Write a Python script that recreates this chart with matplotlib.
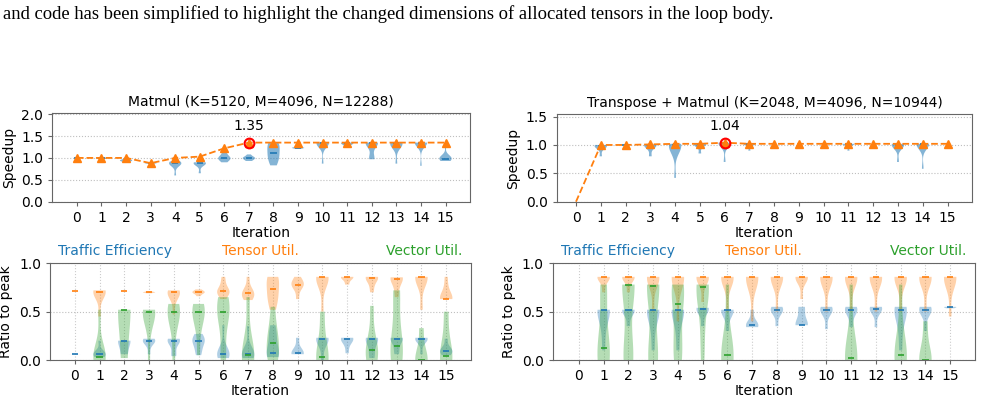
import matplotlib
matplotlib.use("Agg")
import matplotlib.pyplot as plt

# ---------------- data ----------------
iterations = list(range(16))

caption = ("and code has been simplified to highlight the changed dimensions "
           "of allocated tensors in the loop body.")

mm_title = "Matmul (K=5120, M=4096, N=12288)"
tm_title = "Transpose + Matmul (K=2048, M=4096, N=10944)"

# best speedup per iteration (orange dashed line)
mm_best = [1.0, 1.0, 1.0, 0.88, 1.0, 1.03, 1.22, 1.35, 1.35, 1.35, 1.35, 1.35, 1.35, 1.35, 1.35, 1.35]
tm_best = [0.0, 1.0, 1.0, 1.01, 1.02, 1.02, 1.04, 1.02, 1.02, 1.02, 1.02, 1.02, 1.02, 1.02, 1.02, 1.02]
mm_peak_iter, mm_peak_val = 7, 1.35
tm_peak_iter, tm_peak_val = 6, 1.04

# speedup samples of candidates per iteration (blue violins, top row)
mm_speed = [
    [1.0, 1.0005],
    [0.94, 1.0, 1.0, 1.0, 1.0, 1.0],
    [0.91, 0.93, 0.94, 0.94, 0.95, 0.97, 1.0],
    [0.87, 0.88, 0.88, 0.89],
    [0.6, 0.8, 0.85, 0.87, 0.88, 0.88, 0.89, 0.9, 0.92],
    [0.65, 0.85, 0.87, 0.88, 0.88, 0.89, 0.9],
    [0.9, 0.93, 0.96, 0.98, 1.0, 1.0, 1.02, 1.05, 1.1, 1.15],
    [0.93, 0.95, 0.97, 0.99, 1.0, 1.0, 1.02, 1.04, 1.08],
    [0.83, 0.92, 1.0, 1.06, 1.12, 1.2, 1.28, 1.33, 1.35],
    [1.21, 1.22, 1.23, 1.23, 1.24, 1.25],
    [0.87, 1.28, 1.32, 1.33, 1.34, 1.35, 1.35, 1.35, 1.35],
    [1.25, 1.3, 1.33, 1.34, 1.35],
    [0.97, 0.99, 1.02, 1.3, 1.33, 1.34, 1.35, 1.35, 1.35, 1.35],
    [0.87, 1.2, 1.28, 1.31, 1.33, 1.34, 1.35, 1.35, 1.35],
    [0.82, 1.34, 1.35, 1.35, 1.35, 1.35, 1.35, 1.35, 1.35, 1.35],
    [0.93, 0.95, 0.97, 0.98, 0.98, 1.0, 1.02, 1.05, 1.3],
]
tm_speed = [
    [],
    [0.8, 0.94, 0.97, 0.98, 0.99, 1.0, 1.0],
    [1.0, 1.0005],
    [0.8, 0.96, 0.99, 1.0, 1.01, 1.01],
    [0.42, 0.85, 0.93, 0.97, 1.0, 1.01, 1.02, 1.02, 1.02],
    [0.85, 0.99, 1.01, 1.02, 1.02, 1.02],
    [0.7, 1.02, 1.03, 1.03, 1.04, 1.04, 1.04, 1.04],
    [0.9, 1.02, 1.02, 1.02, 1.02, 1.02, 1.02],
    [], [], [],
    [0.9, 1.02, 1.02, 1.02, 1.02, 1.02, 1.02],
    [],
    [0.7, 0.95, 0.98, 1.0, 1.01, 1.02, 1.02, 1.02],
    [0.58, 0.99, 1.0, 1.01, 1.02, 1.02, 1.02, 1.02, 1.02],
    [],
]

# ratio-to-peak samples (bottom row)
mm_traffic = [
    [0.06, 0.0605],
    [0.03, 0.05, 0.06, 0.06, 0.07, 0.08, 0.2],
    [0.06, 0.2, 0.2],
    [0.06, 0.15, 0.19, 0.2, 0.2, 0.21, 0.22],
    [0.04, 0.07, 0.18, 0.2, 0.2, 0.21, 0.22],
    [0.05, 0.1, 0.16, 0.2, 0.2, 0.23, 0.27],
    [0.02, 0.05, 0.06, 0.06, 0.07, 0.09, 0.36],
    [0.02, 0.05, 0.06, 0.06, 0.07, 0.09, 0.35],
    [0.03, 0.06, 0.07, 0.07, 0.22, 0.26, 0.36],
    [0.06, 0.07, 0.07, 0.08, 0.23],
    [0.0, 0.15, 0.22, 0.22, 0.22, 0.23],
    [0.07, 0.16, 0.22, 0.22, 0.22, 0.23],
    [0.02, 0.06, 0.15, 0.22, 0.22, 0.22, 0.23],
    [0.06, 0.12, 0.22, 0.22, 0.22, 0.23],
    [0.06, 0.2, 0.22, 0.22, 0.22, 0.23],
    [0.05, 0.08, 0.09, 0.1, 0.12, 0.22],
]
mm_tensor = [
    [0.71, 0.7105],
    [0.45, 0.68, 0.7, 0.71, 0.71, 0.72],
    [0.71, 0.7105],
    [0.69, 0.7, 0.7, 0.7, 0.71],
    [0.47, 0.62, 0.68, 0.7, 0.7, 0.71, 0.72],
    [0.66, 0.69, 0.7, 0.7, 0.71, 0.73],
    [0.63, 0.68, 0.7, 0.71, 0.71, 0.73, 0.8, 0.86],
    [0.62, 0.65, 0.67, 0.69, 0.7, 0.74, 0.86],
    [0.52, 0.62, 0.66, 0.73, 0.8, 0.86, 0.86],
    [0.63, 0.77, 0.78, 0.78, 0.79, 0.86],
    [0.5, 0.75, 0.84, 0.86, 0.86, 0.86, 0.86],
    [0.78, 0.83, 0.86, 0.86, 0.86],
    [0.7, 0.78, 0.84, 0.86, 0.86, 0.86],
    [0.65, 0.75, 0.83, 0.855, 0.855, 0.855],
    [0.52, 0.82, 0.86, 0.86, 0.86, 0.86],
    [0.63, 0.63, 0.63, 0.63, 0.68, 0.75, 0.86],
]
mm_vector = [
    [],
    [0.0, 0.01, 0.02, 0.04, 0.08, 0.52],
    [0.02, 0.52, 0.52],
    [0.0, 0.3, 0.42, 0.48, 0.51, 0.51, 0.52, 0.52],
    [0.0, 0.3, 0.45, 0.5, 0.5, 0.55, 0.58],
    [0.05, 0.3, 0.45, 0.5, 0.5, 0.55, 0.58],
    [0.0, 0.05, 0.45, 0.5, 0.5, 0.6, 0.65],
    [0.0, 0.02, 0.05, 0.08, 0.65],
    [0.0, 0.05, 0.1, 0.25, 0.3, 0.55],
    [],
    [0.0, 0.02, 0.05, 0.5],
    [],
    [0.0, 0.05, 0.1, 0.15, 0.56],
    [0.0, 0.05, 0.1, 0.2, 0.7, 0.72],
    [0.0, 0.0, 0.01, 0.33],
    [0.0, 0.03, 0.06, 0.5],
]
tm_traffic = [
    [],
    [0.1, 0.3, 0.45, 0.52, 0.52, 0.52, 0.52],
    [0.35, 0.48, 0.52, 0.52, 0.52],
    [0.1, 0.3, 0.45, 0.52, 0.52, 0.52, 0.52],
    [0.1, 0.3, 0.45, 0.52, 0.52, 0.52, 0.52],
    [0.35, 0.51, 0.53, 0.53, 0.54],
    [0.3, 0.48, 0.52, 0.52, 0.52],
    [0.34, 0.36, 0.36, 0.37, 0.52],
    [0.35, 0.48, 0.52, 0.52, 0.53, 0.55],
    [0.36, 0.36, 0.36, 0.36, 0.45, 0.55, 0.55],
    [0.32, 0.49, 0.52, 0.52, 0.53, 0.55],
    [0.34, 0.45, 0.52, 0.52, 0.53, 0.55],
    [0.34, 0.5, 0.53, 0.53, 0.54, 0.55],
    [0.1, 0.3, 0.45, 0.52, 0.52, 0.54, 0.55],
    [0.3, 0.48, 0.52, 0.52, 0.53, 0.55],
    [0.535, 0.545, 0.55],
]
tm_tensor = [
    [],
    [0.7, 0.8, 0.86, 0.86, 0.86, 0.86],
    [0.7, 0.8, 0.86, 0.86, 0.86, 0.86],
    [0.5, 0.8, 0.86, 0.86, 0.86, 0.86],
    [0.4, 0.8, 0.86, 0.86, 0.86, 0.86],
    [0.6, 0.8, 0.86, 0.86, 0.86, 0.86],
    [0.5, 0.8, 0.86, 0.86, 0.86, 0.86],
    [0.4, 0.82, 0.86, 0.86, 0.86, 0.86],
    [0.5, 0.82, 0.86, 0.86, 0.86, 0.86],
    [0.63, 0.82, 0.86, 0.86, 0.86, 0.86],
    [0.5, 0.8, 0.86, 0.86, 0.86, 0.86],
    [0.5, 0.8, 0.86, 0.86, 0.86, 0.86],
    [0.5, 0.8, 0.86, 0.86, 0.86, 0.86],
    [0.5, 0.8, 0.86, 0.86, 0.86, 0.86],
    [0.5, 0.8, 0.86, 0.86, 0.86, 0.86],
    [0.45, 0.8, 0.86, 0.86, 0.86, 0.86],
]
tm_vector = [
    [],
    [0.0, 0.0, 0.05, 0.2, 0.7, 0.78],
    [0.0, 0.0, 0.05, 0.1, 0.78, 0.78, 0.78, 0.78, 0.78],
    [0.0, 0.0, 0.05, 0.1, 0.77, 0.77, 0.77, 0.78, 0.78],
    [0.0, 0.05, 0.1, 0.35, 0.58, 0.7, 0.78, 0.78, 0.78],
    [0.0, 0.3, 0.6, 0.75, 0.78, 0.78, 0.78],
    [0.0, 0.0, 0.05, 0.1, 0.78],
    [], [], [], [],
    [0.0, 0.0, 0.02, 0.05, 0.78],
    [],
    [0.0, 0.0, 0.05, 0.1, 0.78],
    [0.0, 0.0, 0.01, 0.4],
    [],
]

metric_names = ["Traffic Efficiency", "Tensor Util.", "Vector Util."]

# ---------------- style ----------------
C0, C1, C2 = "#1f77b4", "#ff7f0e", "#2ca02c"
FS = 10
plt.rcParams["font.family"] = ["DejaVu Sans"]
plt.rcParams["font.size"] = FS

fig = plt.figure(figsize=(9.82, 3.99), dpi=100)
fig.text(0.003, 0.966, caption, family="Liberation Serif", fontsize=13.4,
         va="center", ha="left")


def draw_violins(ax, samples, color, alpha):
    pos = [i for i, s in enumerate(samples) if len(s) > 0]
    data = [samples[i] for i in pos]
    parts = ax.violinplot(data, positions=pos, widths=0.5,
                          showmedians=True, showextrema=False)
    for b in parts["bodies"]:
        b.set_facecolor(color)
        b.set_edgecolor("none")
        b.set_alpha(alpha)
    parts["cmedians"].set_color(color)
    parts["cmedians"].set_linewidth(1.2)


def style_axes(ax, xgrid):
    for sp in ax.spines.values():
        sp.set_color("0.4")
    ax.set_xticks(iterations)
    ax.tick_params(labelsize=FS, length=3, color="0.4")
    ax.grid(axis="y", linestyle=":", color="0.75", linewidth=0.8)
    if xgrid:
        ax.grid(axis="x", linestyle=":", color="0.8", linewidth=0.8)
    ax.set_axisbelow(True)
    ax.set_xlabel("Iteration", fontsize=FS, labelpad=1)


def speed_panel(rect, samples, best, peak_i, peak_v, title, ytop, xleft,
                yticks, markevery):
    ax = fig.add_axes(rect)
    draw_violins(ax, samples, C0, 0.55)
    ax.plot(iterations, best, linestyle="--", color=C1, linewidth=1.3,
            marker="^", markersize=5.5, markevery=markevery)
    ax.plot([peak_i], [peak_v], marker="o", markersize=7, markerfacecolor="none",
            markeredgecolor="red", markeredgewidth=1.5, linestyle="none")
    ax.annotate(f"{peak_v:.2f}", (peak_i, peak_v), xytext=(0, 7),
                textcoords="offset points", ha="center", va="bottom", fontsize=FS)
    ax.set_xlim(xleft, 16)
    ax.set_ylim(0, ytop)
    ax.set_yticks(yticks)
    ax.set_ylabel("Speedup", fontsize=FS)
    ax.set_title(title, fontsize=FS, pad=5)
    style_axes(ax, False)
    return ax


def util_panel(rect, traffic, tensor, vector, xleft):
    ax = fig.add_axes(rect)
    draw_violins(ax, traffic, C0, 0.35)
    draw_violins(ax, tensor, C1, 0.35)
    draw_violins(ax, vector, C2, 0.35)
    ax.set_xlim(xleft, 16)
    ax.set_ylim(0, 1.0)
    ax.set_yticks([0.0, 0.5, 1.0])
    ax.set_ylabel("Ratio to peak", fontsize=FS)
    style_axes(ax, True)
    ax.text(0.02, 1.05, metric_names[0], color=C0, transform=ax.transAxes,
            ha="left", va="bottom", fontsize=FS)
    ax.text(0.5, 1.05, metric_names[1], color=C1, transform=ax.transAxes,
            ha="center", va="bottom", fontsize=FS)
    ax.text(0.98, 1.05, metric_names[2], color=C2, transform=ax.transAxes,
            ha="right", va="bottom", fontsize=FS)
    return ax


speed_panel([0.0533, 0.4945, 0.4254, 0.2216], mm_speed, mm_best, mm_peak_iter,
            mm_peak_val, mm_title, 2.02, -1.0, [0.0, 0.5, 1.0, 1.5, 2.0], None)
speed_panel([0.5669, 0.4945, 0.4232, 0.2190], tm_speed, tm_best, tm_peak_iter,
            tm_peak_val, tm_title, 1.54, -0.78, [0.0, 0.5, 1.0, 1.5],
            list(range(1, 16)))
util_panel([0.0509, 0.0977, 0.4287, 0.2424], mm_traffic, mm_tensor, mm_vector, -1.0)
util_panel([0.5628, 0.0977, 0.4300, 0.2424], tm_traffic, tm_tensor, tm_vector, -1.06)

fig.savefig("out.png", dpi=100)
